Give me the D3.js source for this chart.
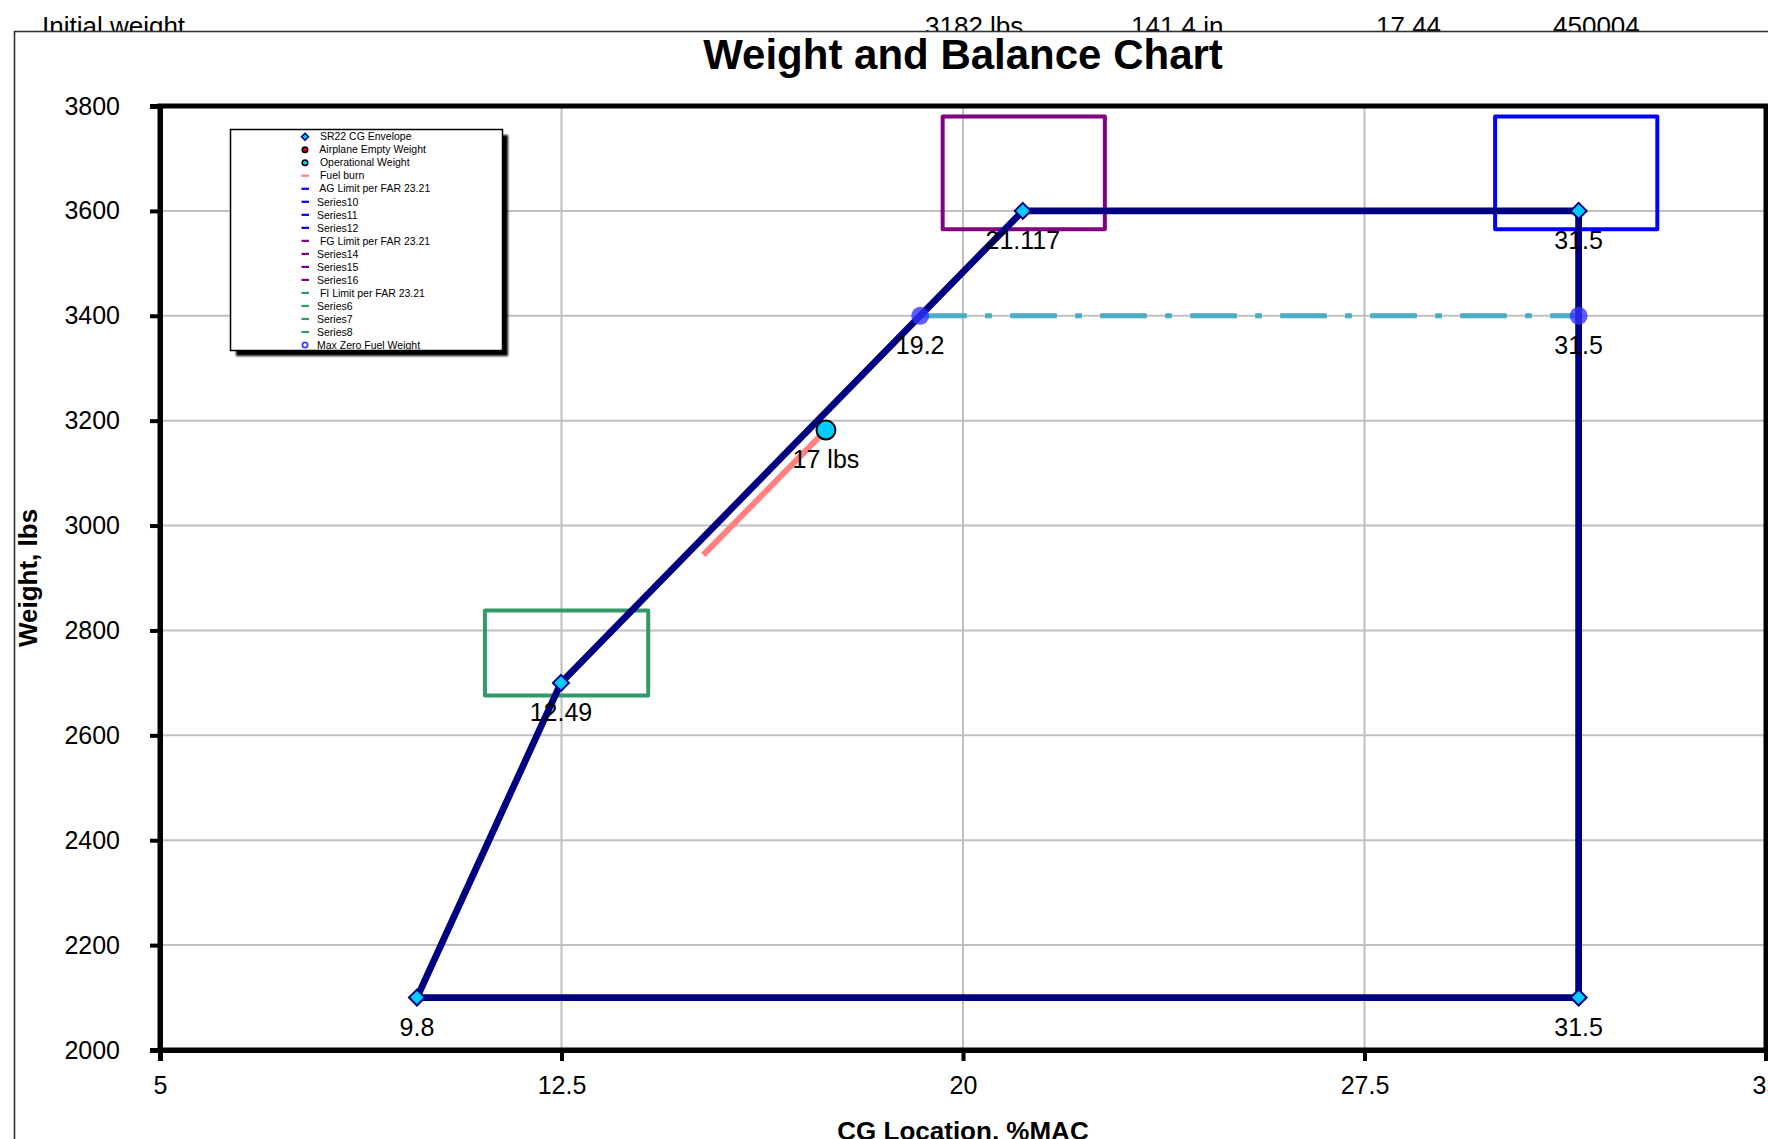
<!DOCTYPE html>
<html>
<head>
<meta charset="utf-8">
<script src="https://cdn.jsdelivr.net/npm/d3@7"></script>
<style>
  html, body { margin: 0; padding: 0; background: #fff; }
  svg { display: block; font-family: "Liberation Sans", Arial, sans-serif; }
</style>
</head>
<body>
<svg id="chart" width="1768" height="1139"></svg>
<script>
// ---------- data ----------
const headerTexts = ["Initial weight", "3182 lbs", "141.4 in", "17.44", "450004"];

const xTicks = [5, 12.5, 20, 27.5, 35];
const yTicks = [2000, 2200, 2400, 2600, 2800, 3000, 3200, 3400, 3600, 3800];

// SR22 CG envelope (closed)
const envelopeCG = [9.8, 12.49, 21.117, 31.5, 31.5, 9.8];
const envelopeWt = [2100, 2700, 3600, 3600, 2100, 2100];
const envelopeLabels = ["9.8", "12.49", "21.117", "31.5", "31.5"];

// Operational weight
const opCG = [17.44];
const opWt = [3182];
const opLabels = ["17 lbs"];

// Fuel burn line
const fuelCG = [17.44, 15.15];
const fuelWt = [3182, 2944];

// Max zero fuel weight
const mzfwCG = [19.2, 31.5];
const mzfwWt = [3400, 3400];
const mzfwLabels = ["19.2", "31.5"];

// FAR 23.21 limit boxes: [x0, x1, y0, y1]
const agBox = [29.94, 32.97, 3565, 3780];
const fgBox = [19.62, 22.65, 3565, 3780];
const fiBox = [11.07, 14.12, 2676, 2838];

const legendNames = [" SR22 CG Envelope", " Airplane Empty Weight", " Operational Weight", " Fuel burn",
  " AG Limit per FAR 23.21", "Series10", "Series11", "Series12",
  " FG Limit per FAR 23.21", "Series14", "Series15", "Series16",
  " FI Limit per FAR 23.21", "Series6", "Series7", "Series8", "Max Zero Fuel Weight"];
const legendKinds = ["diamond", "dotRed", "dotCyan", "fuel", "ag", "ag", "ag", "ag",
  "fg", "fg", "fg", "fg", "fi", "fi", "fi", "fi", "mzfw"];

// ---------- styles ----------
const NAVY = "#000080", CYAN = "#00CCFF", FUEL = "#FF8080", AG = "#0000FF",
      FG = "#800080", FI = "#339966", MZ = "#4BACC6", MZDOT = "rgba(50,50,255,0.78)";
const lineColor = {fuel: FUEL, ag: AG, fg: FG, fi: FI};

const svg = d3.select("#chart");
const defs = svg.append("defs");
defs.append("filter").attr("id", "blur").attr("x", "-10%").attr("y", "-10%").attr("width", "120%").attr("height", "120%")
  .append("feGaussianBlur").attr("stdDeviation", 1.2);

const x = d3.scaleLinear().domain([5, 35]).range([160, 1766]);
const y = d3.scaleLinear().domain([2000, 3800]).range([1050, 106]);

// header row (partly hidden behind chart frame)
const headerX = [42, 925, 1131, 1376, 1553];
svg.append("g").selectAll("text").data(headerTexts).join("text")
  .attr("x", (d, i) => headerX[i]).attr("y", 35)
  .attr("font-size", 26).attr("fill", "#000").text(d => d);

// chart frame
svg.append("rect").attr("x", 14.5).attr("y", 31.5).attr("width", 1800).attr("height", 1200)
  .attr("fill", "#fff").attr("stroke", "#333").attr("stroke-width", 1.6);

// title
svg.append("text").attr("x", 963).attr("y", 69).attr("text-anchor", "middle")
  .attr("font-size", 42).attr("font-weight", "bold").text("Weight and Balance Chart");

// gridlines
const grid = svg.append("g").attr("stroke", "#C0C0C0").attr("stroke-width", 2);
grid.selectAll(".gx").data(xTicks.slice(1, -1)).join("line")
  .attr("x1", d => x(d)).attr("x2", d => x(d)).attr("y1", y(3800)).attr("y2", y(2000));
grid.selectAll(".gy").data(yTicks.slice(1, -1)).join("line")
  .attr("y1", d => y(d)).attr("y2", d => y(d)).attr("x1", x(5)).attr("x2", x(35));

// plot border
svg.append("rect").attr("x", x(5)).attr("y", y(3800))
  .attr("width", x(35) - x(5)).attr("height", y(2000) - y(3800))
  .attr("fill", "none").attr("stroke", "#000").attr("stroke-width", 5);

// axes
const yAxis = svg.append("g").attr("transform", `translate(${x(5)},0)`)
  .call(d3.axisLeft(y).tickValues(yTicks).tickSize(10).tickPadding(30).tickFormat(d3.format("d")));
const xAxis = svg.append("g").attr("transform", `translate(0,${y(2000)})`)
  .call(d3.axisBottom(x).tickValues(xTicks).tickSize(11).tickPadding(15).tickFormat(d => String(d)));
[yAxis, xAxis].forEach(a => {
  a.select(".domain").attr("stroke", "#000").attr("stroke-width", 5);
  a.selectAll(".tick line").attr("stroke", "#000").attr("stroke-width", 4);
  a.selectAll(".tick text").attr("font-size", 25).attr("fill", "#000")
    .attr("font-family", "Liberation Sans, Arial, sans-serif");
});

// axis titles
svg.append("text").attr("transform", `translate(37,${(y(2000) + y(3800)) / 2}) rotate(-90)`)
  .attr("text-anchor", "middle").attr("font-size", 26).attr("font-weight", "bold").text("Weight, lbs");
svg.append("text").attr("x", (x(5) + x(35)) / 2).attr("y", 1140).attr("text-anchor", "middle")
  .attr("font-size", 26).attr("font-weight", "bold").text("CG Location, %MAC");

// limit boxes
[[agBox, AG], [fgBox, FG], [fiBox, FI]].forEach(([b, c]) => {
  svg.append("rect").attr("x", x(b[0])).attr("y", y(b[3]))
    .attr("width", x(b[1]) - x(b[0])).attr("height", y(b[2]) - y(b[3]))
    .attr("fill", "none").attr("stroke", c).attr("stroke-width", 4).attr("stroke-linejoin", "round");
});

// MZFW dash-dot line
const line = d3.line().x(d => x(d[0])).y(d => y(d[1]));
svg.append("path").datum(mzfwCG.map((c, i) => [c, mzfwWt[i]]))
  .attr("d", line).attr("fill", "none").attr("stroke", MZ).attr("stroke-width", 5)
  .attr("stroke-dasharray", "46.7,18.3,6.7,18.3");

// fuel burn
svg.append("path").datum(fuelCG.map((c, i) => [c, fuelWt[i]]))
  .attr("d", line).attr("fill", "none").attr("stroke", FUEL).attr("stroke-width", 6);

// envelope
const env = envelopeCG.map((c, i) => [c, envelopeWt[i]]);
svg.append("path").datum(env).attr("d", line).attr("fill", "none")
  .attr("stroke", NAVY).attr("stroke-width", 6.8).attr("stroke-linejoin", "round");

// envelope markers + labels
const envPts = env.slice(0, 5);
svg.append("g").selectAll("path").data(envPts).join("path")
  .attr("transform", d => `translate(${x(d[0])},${y(d[1])})`)
  .attr("d", "M0,-8L8,0L0,8L-8,0Z").attr("fill", CYAN).attr("stroke", NAVY).attr("stroke-width", 2);
svg.append("g").selectAll("text").data(envPts).join("text")
  .attr("x", d => x(d[0])).attr("y", d => y(d[1]) + 38).attr("text-anchor", "middle")
  .attr("font-size", 25).text((d, i) => envelopeLabels[i]);

// MZFW markers + labels
svg.append("g").selectAll("circle").data(mzfwCG).join("circle")
  .attr("cx", d => x(d)).attr("cy", (d, i) => y(mzfwWt[i])).attr("r", 9).attr("fill", MZDOT);
svg.append("g").selectAll("text").data(mzfwCG).join("text")
  .attr("x", d => x(d)).attr("y", (d, i) => y(mzfwWt[i]) + 38).attr("text-anchor", "middle")
  .attr("font-size", 25).text((d, i) => mzfwLabels[i]);

// operational weight
svg.append("g").selectAll("circle").data(opCG).join("circle")
  .attr("cx", d => x(d)).attr("cy", (d, i) => y(opWt[i])).attr("r", 9.5)
  .attr("fill", CYAN).attr("stroke", "#000").attr("stroke-width", 2);
svg.append("g").selectAll("text").data(opCG).join("text")
  .attr("x", d => x(d)).attr("y", (d, i) => y(opWt[i]) + 38).attr("text-anchor", "middle")
  .attr("font-size", 25).text((d, i) => opLabels[i]);

// legend
const lg = svg.append("g");
lg.append("rect").attr("x", 236).attr("y", 135).attr("width", 272).attr("height", 221)
  .attr("fill", "#000").attr("filter", "url(#blur)");
lg.append("rect").attr("x", 230.5).attr("y", 129.5).attr("width", 272).attr("height", 221)
  .attr("fill", "#fff").attr("stroke", "#000").attr("stroke-width", 1.5);
const rows = lg.selectAll("g.row").data(legendNames).join("g")
  .attr("transform", (d, i) => `translate(0,${136.7 + i * 13.02})`);
rows.each(function (d, i) {
  const g = d3.select(this), k = legendKinds[i];
  if (k === "diamond") {
    g.append("path").attr("d", "M305,-3.5L308.5,0L305,3.5L301.5,0Z").attr("fill", CYAN).attr("stroke", NAVY).attr("stroke-width", 1.5);
  } else if (k === "dotRed" || k === "dotCyan") {
    g.append("circle").attr("cx", 305).attr("cy", 0).attr("r", 2.8).attr("fill", k === "dotRed" ? "#E00000" : CYAN)
      .attr("stroke", "#000").attr("stroke-width", 1.5);
  } else if (k === "mzfw") {
    g.append("circle").attr("cx", 305).attr("cy", 0).attr("r", 2.6).attr("fill", "#fff")
      .attr("stroke", "#3C3CFF").attr("stroke-width", 1.8);
  } else {
    g.append("line").attr("x1", 301.5).attr("x2", 309).attr("y1", 0).attr("y2", 0)
      .attr("stroke", lineColor[k]).attr("stroke-width", 2.2);
  }
  g.append("text").attr("x", 317).attr("y", 3.7).attr("font-size", 10.5)
    .attr("xml:space", "preserve").style("white-space", "pre").text(d);
});
</script>
</body>
</html>
